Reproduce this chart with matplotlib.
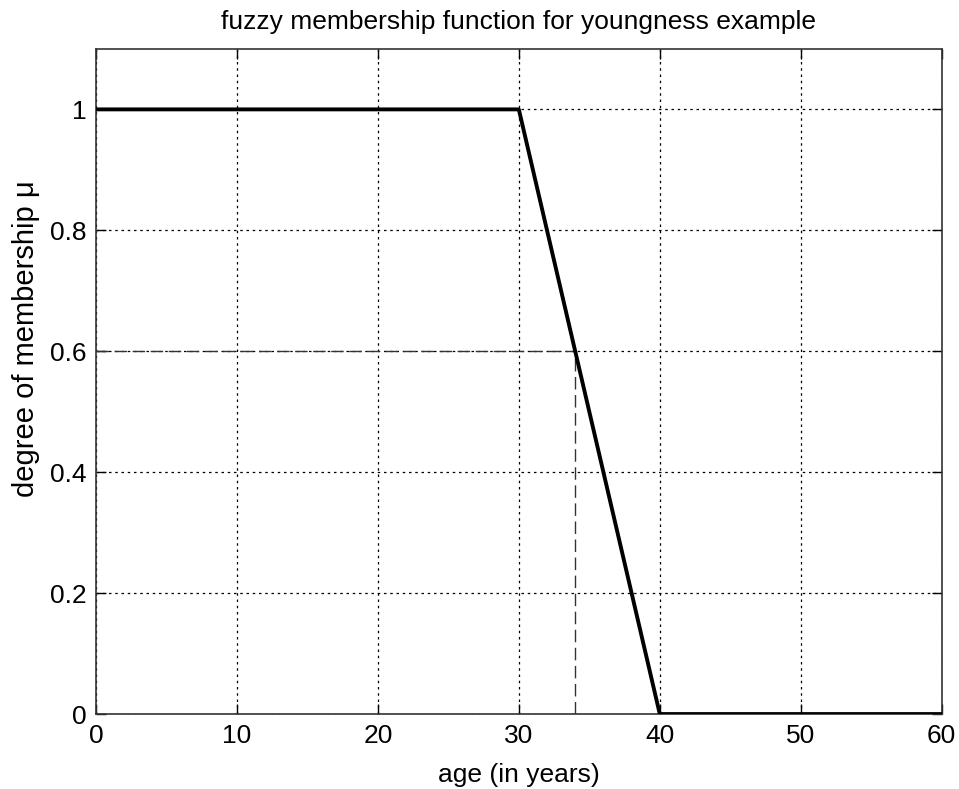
import matplotlib
matplotlib.use("Agg")
import matplotlib.pyplot as plt

plt.rcParams['font.family'] = ['Liberation Sans', 'DejaVu Sans']

# membership function points
age = [0, 30, 40, 60]
mu = [1, 1, 0, 0]

# example reading: age 34 -> mu 0.6
ex_age = 34
ex_mu = 0.6

xticks = [0, 10, 20, 30, 40, 50, 60]
yticks = [0, 0.2, 0.4, 0.6, 0.8, 1]
yticklabels = ["0", "0.2", "0.4", "0.6", "0.8", "1"]

fig = plt.figure(figsize=(9.59, 7.89), dpi=100)
ax = fig.add_axes([0.100, 0.095, 0.882, 0.843])

ax.plot(age, mu, color="black", linewidth=2.8, zorder=3)
ax.plot([0, ex_age], [ex_mu, ex_mu], color="#333333", linewidth=1, dashes=(9, 4), zorder=2)
ax.plot([ex_age, ex_age], [0, ex_mu], color="#333333", linewidth=1, dashes=(9, 4), zorder=2)

ax.set_xlim(0, 60)
ax.set_ylim(0, 1.1)
ax.set_xticks(xticks)
ax.set_yticks(yticks)
ax.set_yticklabels(yticklabels)
ax.grid(True, color="black", linestyle=(0, (2, 3)), linewidth=0.9)
ax.tick_params(direction="in", top=True, right=True, length=7, width=1,
               labelsize=19, pad=7)
for s in ax.spines.values():
    s.set_linewidth(1.2)
    s.set_color("#333333")

ax.set_xlabel("age (in years)", fontsize=19, labelpad=11)
ax.set_ylabel("degree of membership \u03bc", fontsize=21)
ax.yaxis.set_label_coords(-0.066, 0.565)
ax.set_title("fuzzy membership function for youngness example", fontsize=19, pad=14)

fig.savefig("out.png", dpi=100)
